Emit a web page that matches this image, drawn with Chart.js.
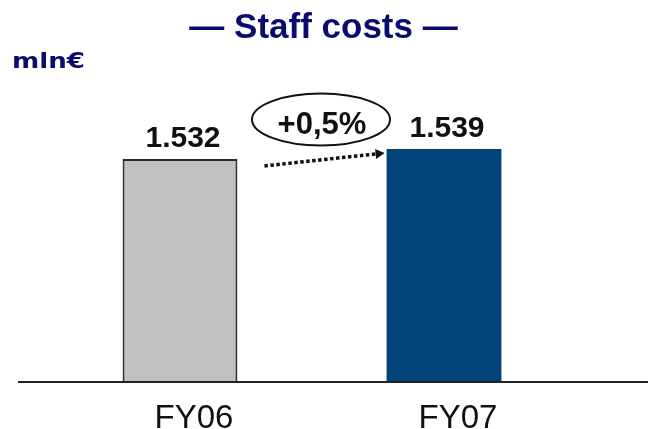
<!DOCTYPE html>
<html>
<head>
<meta charset="utf-8">
<script src="https://cdn.jsdelivr.net/npm/chart.js@4/dist/chart.umd.min.js"></script>
<style>
  html, body { margin: 0; padding: 0; background: #ffffff; }
  #wrap { width: 648px; height: 429px; position: relative; }
</style>
</head>
<body>
<div id="wrap"><canvas id="c" width="648" height="429"></canvas></div>
<script>
// ---- data ----
const categories = ["FY06", "FY07"];
const staffCosts = [1532, 1539];
const valueLabels = ["1.532", "1.539"];
const titleText = "\u2014 Staff costs \u2014";
const unitText = "mln\u20ac";
const changeText = "+0,5%";
const barColors = ["#c0c0c0", "#00437a"];
const barBorders = ["#2a2a2a", "#00437a"];

const NAVY = "#0b0b6e";

const decor = {
  id: "decor",
  afterDatasetsDraw(chart) {
    const ctx = chart.ctx;
    const area = chart.chartArea;
    const meta = chart.getDatasetMeta(0);
    const b0 = meta.data[0], b1 = meta.data[1];
    ctx.save();

    // baseline
    ctx.strokeStyle = "#222222";
    ctx.lineWidth = 2;
    ctx.beginPath();
    ctx.moveTo(18, area.bottom + 0.5);
    ctx.lineTo(648, area.bottom + 0.5);
    ctx.stroke();

    // title
    ctx.fillStyle = NAVY;
    ctx.font = "bold 35px 'Liberation Sans', Arial, sans-serif";
    ctx.textAlign = "center";
    ctx.textBaseline = "alphabetic";
    ctx.fillText(titleText, 323.5, 37.5);

    // unit label (wide bold)
    ctx.font = "bold 21px 'DejaVu Sans', sans-serif";
    ctx.textAlign = "left";
    const w = ctx.measureText(unitText).width;
    ctx.save();
    ctx.translate(12, 68);
    ctx.scale(73 / w, 1);
    ctx.fillText(unitText, 0, 0);
    ctx.restore();

    // value labels
    ctx.fillStyle = "#111111";
    ctx.font = "bold 30px 'Liberation Sans', Arial, sans-serif";
    ctx.textAlign = "center";
    meta.data.forEach((bar, i) => {
      ctx.fillText(valueLabels[i], bar.x + 3, bar.y - 12);
    });

    // ellipse with change
    const cx = (b0.x + b1.x) / 2 + 9;
    const cy = b1.y - 29.5;
    ctx.strokeStyle = "#111111";
    ctx.lineWidth = 2;
    ctx.beginPath();
    ctx.ellipse(cx, cy, 69, 26, 0, 0, Math.PI * 2);
    ctx.stroke();
    ctx.font = "bold 31px 'Liberation Sans', Arial, sans-serif";
    ctx.fillText(changeText, cx + 1, cy + 14);

    // dotted arrow
    const x1 = b0.x + b0.width / 2 + 27, y1 = b0.y + 7;
    const x2 = b1.x - b1.width / 2 - 2, y2 = b1.y + 4;
    const ang = Math.atan2(y2 - y1, x2 - x1);
    const hx = x2 - 9 * Math.cos(ang), hy = y2 - 9 * Math.sin(ang);
    ctx.setLineDash([3.5, 2.5]);
    ctx.lineWidth = 3.5;
    ctx.beginPath();
    ctx.moveTo(x1, y1);
    ctx.lineTo(hx, hy);
    ctx.stroke();
    ctx.setLineDash([]);
    ctx.fillStyle = "#111111";
    ctx.beginPath();
    ctx.moveTo(x2, y2);
    ctx.lineTo(hx + 5 * Math.sin(ang), hy - 5 * Math.cos(ang));
    ctx.lineTo(hx - 5 * Math.sin(ang), hy + 5 * Math.cos(ang));
    ctx.closePath();
    ctx.fill();

    ctx.restore();
  }
};

new Chart(document.getElementById("c"), {
  type: "bar",
  data: {
    labels: categories,
    datasets: [{
      data: staffCosts,
      backgroundColor: barColors,
      borderColor: barBorders,
      borderWidth: [2, 0],
      borderSkipped: "bottom",
      barPercentage: 0.435,
      categoryPercentage: 1
    }]
  },
  options: {
    responsive: false,
    animation: false,
    layout: { padding: { top: 98, left: 48, right: 72, bottom: -28 } },
    plugins: { legend: { display: false }, tooltip: { enabled: false }, title: { display: false } },
    scales: {
      y: { display: false, min: 1375, max: 1575 },
      x: {
        grid: { display: false, drawTicks: false },
        border: { display: false },
        ticks: {
          color: "#111111",
          padding: 18,
          labelOffset: 14,
          font: { family: "'Liberation Sans', Arial, sans-serif", size: 33 }
        }
      }
    }
  },
  plugins: [decor]
});
</script>
</body>
</html>
